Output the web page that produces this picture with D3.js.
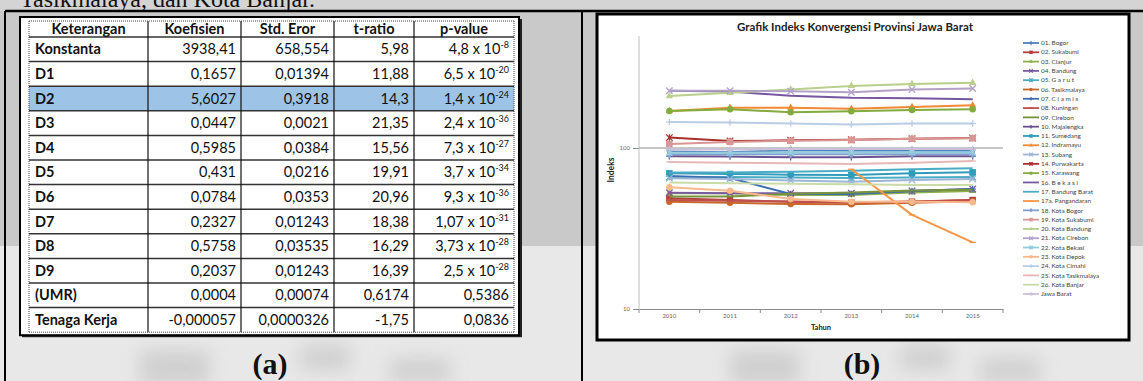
<!DOCTYPE html>
<html><head><meta charset="utf-8">
<script src="https://cdn.jsdelivr.net/npm/d3@7"></script>
<style>
html,body{margin:0;padding:0;background:#e6e6e6;}
svg{display:block;}
</style></head><body>
<svg id="fig" width="1143" height="381"></svg>
<script>
// ---------- (a) regression table ----------
const tableHeaders = ["Keterangan", "Koefisien", "Std. Eror", "t-ratio", "p-value"];
const rowLabels = ["Konstanta", "D1", "D2", "D3", "D4", "D5", "D6", "D7", "D8", "D9", "(UMR)", "Tenaga Kerja"];
const koefisien = ["3938,41", "0,1657", "5,6027", "0,0447", "0,5985", "0,431", "0,0784", "0,2327", "0,5758", "0,2037", "0,0004", "-0,000057"];
const stdEror = ["658,554", "0,01394", "0,3918", "0,0021", "0,0384", "0,0216", "0,0353", "0,01243", "0,03535", "0,01243", "0,00074", "0,0000326"];
const tRatio = ["5,98", "11,88", "14,3", "21,35", "15,56", "19,91", "20,96", "18,38", "16,29", "16,39", "0,6174", "-1,75"];
const pBase = ["4,8 x 10", "6,5 x 10", "1,4 x 10", "2,4 x 10", "7,3 x 10", "3,7 x 10", "9,3 x 10", "1,07 x 10", "3,73 x 10", "2,5 x 10", "0,5386", "0,0836"];
const pExp = ["-8", "-20", "-24", "-36", "-27", "-34", "-36", "-31", "-28", "-28", "", ""];
const highlightRow = "D2";

// ---------- (b) convergence index chart ----------
const chartTitle = "Grafik Indeks Konvergensi Provinsi Jawa Barat";
const years = ["2010", "2011", "2012", "2013", "2014", "2015"];
const yTicks = [10, 100];

const bogor          = [95, 94, 97, 96, 96, 96];
const sukabumi       = [48.7, 47.5, 46.4, 45.7, 46.4, 47.5];
const cianjur        = [52.3, 52.3, 51.1, 51.1, 53, 54.1];
const bandung        = [52.7, 52.3, 52.3, 52.3, 54.1, 55.6];
const garut          = [66, 66, 65.5, 65, 65.5, 66];
const tasikmalaya    = [46.4, 45.7, 44.9, 44.7, 45.7, 46.7];
const ciamis         = [67, 65.1, 51.8, 51.8, 54, 55.6];
const kuningan       = [47.5, 47, 46.5, 46, 46.5, 47.5];
const cirebon        = [50, 50, 52, 53, 54.5, 55];
const majalengka     = [89, 88.5, 87.5, 87.5, 89, 89];
const sumedang       = [69.6, 69, 68.3, 68, 69.6, 70.6];
const indramayu      = [170, 178, 178, 175, 180, 184];
const subang         = [64.8, 64.2, 62.8, 61.8, 63.3, 64.2];
const purwakarta     = [116, 110.5, 111.6, 112.6, 114.2, 115.4];
const karawang       = [170, 174, 167, 169, 172, 174];
const bekasi         = [227, 224, 211, 205, 204, 201];
const bandungBarat   = [70.4, 70.4, 71.2, 72.3, 73.8, 74.8];
const pangandaran    = [null, null, null, 73.8, 38.4, 25.9];
const kotaBogor      = [91.5, 91.5, 91.5, 91.5, 91.5, 91.5];
const kotaSukabumi   = [106, 109, 111, 112, 114, 115];
const kotaBandung    = [210, 220, 231, 243, 250, 254];
const kotaCirebon    = [227, 227, 225, 222, 231, 234];
const kotaBekasi     = [93.5, 93.5, 94, 94, 94, 94];
const kotaDepok      = [57, 54.3, 48.2, 46.4, 46.4, 46];
const kotaCimahi     = [145, 144, 142, 140, 142, 142];
const kotaTasikmalaya = [82, 81, 80.5, 79.5, 81, 83];
const kotaBanjar     = [61, 60.5, 60, 59.5, 59, 59];
const jawaBarat      = [98, 98, 98.5, 98.5, 98.5, 98.5];

const seriesNames = ["01. Bogor", "02. Sukabumi", "03. Cianjur", "04. Bandung", "05. G a r u t", "06. Tasikmalaya",
  "07. C i a m i s", "08. Kuningan", "09. Cirebon", "10. Majalengka", "11. Sumedang", "12. Indramayu", "13. Subang",
  "14. Purwakarta", "15. Karawang", "16. B e k a s i", "17. Bandung Barat", "17a. Pangandaran", "18. Kota Bogor",
  "19. Kota Sukabumi", "20. Kota Bandung", "21. Kota Cirebon", "22. Kota Bekasi", "23. Kota Depok", "24. Kota Cimahi",
  "25. Kota Tasikmalaya", "26. Kota Banjar", "Jawa Barat"];
const seriesValues = [bogor, sukabumi, cianjur, bandung, garut, tasikmalaya, ciamis, kuningan, cirebon, majalengka,
  sumedang, indramayu, subang, purwakarta, karawang, bekasi, bandungBarat, pangandaran, kotaBogor, kotaSukabumi,
  kotaBandung, kotaCirebon, kotaBekasi, kotaDepok, kotaCimahi, kotaTasikmalaya, kotaBanjar, jawaBarat];
const seriesColors = ["#4F81BD", "#B2403D", "#8DB04A", "#7A5BA0", "#4BACC6", "#C8682C",
  "#3E6DAF", "#C0504D", "#77933C", "#6A5190", "#2F9DBA", "#F28A35", "#9DB6D6",
  "#A5302C", "#83AC3E", "#7657A0", "#4BACC6", "#F79646", "#7F9FCF",
  "#D99694", "#B8D08A", "#B3A2C7", "#93CDDD", "#F9B98A", "#B9CDE5",
  "#E6B9B8", "#C9DCA8", "#CCC1DA"];
const seriesMarkers = ["diamond", "square", "triangle", "x", "star", "circle",
  "plus", "dash", "none", "plus", "square", "triangle", "x",
  "star", "circle", "none", "none", "dash", "diamond",
  "square", "triangle", "x", "star", "circle", "plus",
  "dash", "none", "plus"];

// ---------- page ----------
const W = 1143, H = 381;
const svg = d3.select("#fig");
const defs = svg.append("defs");
defs.append("filter").attr("id", "soft").attr("x", "-50%").attr("y", "-50%").attr("width", "200%").attr("height", "200%")
  .append("feGaussianBlur").attr("stdDeviation", 9);

svg.append("rect").attr("width", W).attr("height", H).attr("fill", "#e8e8e8");
svg.append("rect").attr("width", W).attr("height", 246).attr("fill", "#c9c9c9");
svg.append("rect").attr("width", W).attr("height", 11).attr("fill", "#d4d4d4");

// faint logo shapes behind the captions
const wm = svg.append("g").attr("filter", "url(#soft)").attr("fill", "#bdbdbd").attr("opacity", 0.55);
[[140, 350, 70, 35], [300, 345, 50, 25], [390, 358, 60, 25], [730, 350, 70, 35], [900, 345, 50, 25], [980, 358, 60, 25]]
  .forEach(r => wm.append("rect").attr("x", r[0]).attr("y", r[1]).attr("width", r[2]).attr("height", r[3]));

// running text cut at the top of the page
svg.append("text").attr("x", 20).attr("y", 7)
  .attr("font-family", "Liberation Serif, Times New Roman, serif").attr("font-size", 24)
  .attr("fill", "#111").text("Tasikmalaya, dan Kota Banjar.");

// frame lines
svg.append("line").attr("x1", 5).attr("x2", W).attr("y1", 11).attr("y2", 11).attr("stroke", "#000").attr("stroke-width", 2.5);
svg.append("line").attr("x1", 5).attr("x2", 5).attr("y1", 11).attr("y2", H).attr("stroke", "#000").attr("stroke-width", 2);
svg.append("line").attr("x1", 582).attr("x2", 582).attr("y1", 11).attr("y2", H).attr("stroke", "#000").attr("stroke-width", 2);

// captions
[["(a)", 270], ["(b)", 862]].forEach(([t, x]) =>
  svg.append("text").attr("x", x).attr("y", 374).attr("text-anchor", "middle")
    .attr("font-family", "Liberation Serif, Times New Roman, serif").attr("font-weight", "bold")
    .attr("font-size", 30).attr("fill", "#111").text(t));

// ---------- table ----------
const colEdges = [29, 148, 241, 334, 414, 514];
const headerTop = 21, headerBottom = 37;
const rowY = d3.scaleBand().domain(rowLabels).range([headerBottom, headerBottom + 24.6 * rowLabels.length]);
const tBottom = rowY.range()[1];
const tbl = svg.append("g").attr("font-family", "Lato, Open Sans, sans-serif").attr("fill", "#111");

// box with drop shadow
tbl.append("rect").attr("x", 22).attr("y", 19).attr("width", colEdges[5] - 22 + 8).attr("height", tBottom - 19 + 5)
  .attr("fill", "#222");
tbl.append("rect").attr("x", 20).attr("y", 17).attr("width", colEdges[5] - 20 + 5).attr("height", tBottom - 17 + 3)
  .attr("fill", "#fff").attr("stroke", "#000").attr("stroke-width", 2);
tbl.append("rect").attr("x", colEdges[0]).attr("y", rowY(highlightRow)).attr("width", colEdges[5] - colEdges[0])
  .attr("height", rowY.bandwidth()).attr("fill", "#9dc3e6");

// grid lines
rowLabels.forEach(r => {
  tbl.append("line").attr("x1", colEdges[0]).attr("x2", colEdges[5]).attr("y1", rowY(r)).attr("y2", rowY(r))
    .attr("stroke", "#333").attr("stroke-width", 1.5);
});
colEdges.slice(1, 5).forEach(x => tbl.append("line").attr("x1", x).attr("x2", x).attr("y1", headerTop).attr("y2", tBottom)
  .attr("stroke", "#111").attr("stroke-width", 1.2));
[[colEdges[0], headerTop, colEdges[5], headerTop], [colEdges[0], tBottom, colEdges[5], tBottom],
 [colEdges[0], headerTop, colEdges[0], tBottom], [colEdges[5], headerTop, colEdges[5], tBottom]]
  .forEach(l => tbl.append("line").attr("x1", l[0]).attr("y1", l[1]).attr("x2", l[2]).attr("y2", l[3])
    .attr("stroke", "#444").attr("stroke-width", 1).attr("stroke-dasharray", "1,1"));

// header
tableHeaders.forEach((h, i) => tbl.append("text").attr("x", (colEdges[i] + colEdges[i + 1]) / 2)
  .attr("y", (headerTop + headerBottom) / 2 + 5).attr("text-anchor", "middle").attr("font-weight", "bold")
  .attr("font-size", 14.5).text(h));

// body
rowLabels.forEach((r, i) => {
  const yb = rowY(r) + rowY.bandwidth() / 2 + 5;
  tbl.append("text").attr("x", colEdges[0] + 6).attr("y", yb).attr("font-weight", "bold").attr("font-size", 14.5).text(r);
  [koefisien[i], stdEror[i], tRatio[i]].forEach((v, j) =>
    tbl.append("text").attr("x", colEdges[j + 2] - 5).attr("y", yb).attr("text-anchor", "end").attr("font-size", 14.5).text(v));
  const t = tbl.append("text").attr("x", colEdges[5] - 5).attr("y", yb).attr("text-anchor", "end").attr("font-size", 14.5);
  t.append("tspan").text(pBase[i]);
  if (pExp[i]) t.append("tspan").attr("dy", -6).attr("font-size", 9).text(pExp[i]);
});

// ---------- chart ----------
const box = {x: 597, y: 14, w: 532, h: 326};
const ch = svg.append("g").attr("font-family", "Lato, Open Sans, sans-serif");
ch.append("rect").attr("x", box.x).attr("y", box.y).attr("width", box.w).attr("height", box.h)
  .attr("fill", "#fff").attr("stroke", "#000").attr("stroke-width", 3);

ch.append("text").attr("x", 855).attr("y", 31).attr("text-anchor", "middle").attr("font-weight", "bold")
  .attr("font-size", 11.5).attr("fill", "#222").text(chartTitle);

const plot = {left: 639, right: 1003, top: 36, bottom: 309};
const x = d3.scaleBand().domain(years).range([plot.left, plot.right]);
const y = d3.scaleLog().domain([10, 100]).range([plot.bottom, 148]);

// gridline at 100
ch.append("line").attr("x1", plot.left).attr("x2", plot.right).attr("y1", y(100)).attr("y2", y(100))
  .attr("stroke", "#8c8c8c").attr("stroke-width", 1);

// y axis
const yAxis = ch.append("g").attr("transform", `translate(${plot.left},0)`)
  .call(d3.axisLeft(y).tickValues(yTicks).tickFormat(d3.format("d")).tickSize(6).tickSizeOuter(0));
yAxis.select(".domain").remove();
ch.append("line").attr("x1", plot.left).attr("x2", plot.left).attr("y1", plot.top).attr("y2", plot.bottom)
  .attr("stroke", "#bfbfbf");
yAxis.selectAll(".tick line").attr("stroke", "#8c8c8c");
yAxis.selectAll(".tick text").attr("font-size", 6).attr("fill", "#666").attr("font-family", "Lato, sans-serif");

// x axis
const xAxis = ch.append("g").attr("transform", `translate(0,${plot.bottom})`)
  .call(d3.axisBottom(x).tickSize(0).tickPadding(5));
xAxis.select(".domain").attr("stroke", "#8c8c8c");
xAxis.selectAll(".tick text").attr("font-size", 6).attr("fill", "#666").attr("font-family", "Lato, sans-serif");
d3.range(years.length + 1).forEach(i => {
  const xx = plot.left + i * x.step();
  ch.append("line").attr("x1", xx).attr("x2", xx).attr("y1", plot.bottom).attr("y2", plot.bottom + 4).attr("stroke", "#8c8c8c");
});

ch.append("text").attr("x", (plot.left + plot.right) / 2).attr("y", 330).attr("text-anchor", "middle")
  .attr("font-weight", "bold").attr("font-size", 7.5).attr("fill", "#222").text("Tahun");
ch.append("text").attr("transform", `translate(614,170) rotate(-90)`).attr("text-anchor", "middle")
  .attr("font-weight", "bold").attr("font-size", 8.5).attr("fill", "#222").text("Indeks");

// marker painter
function marker(g, type, color, s) {
  const h = s / 2;
  if (type === "none") return;
  if (type === "diamond") g.append("path").attr("d", d3.symbol(d3.symbolDiamond, s * s * 0.6)()).attr("fill", color);
  else if (type === "square") g.append("rect").attr("x", -h).attr("y", -h).attr("width", s).attr("height", s).attr("fill", color);
  else if (type === "triangle") g.append("path").attr("d", d3.symbol(d3.symbolTriangle, s * s * 0.55)()).attr("fill", color);
  else if (type === "circle") g.append("circle").attr("r", h).attr("fill", color);
  else {
    const segs = [];
    if (type === "x" || type === "star") segs.push([-h, -h, h, h], [-h, h, h, -h]);
    if (type === "plus" || type === "star") segs.push([0, -h, 0, h]);
    if (type === "plus" || type === "dash") segs.push([-h, 0, h, 0]);
    segs.forEach(sg => g.append("line").attr("x1", sg[0]).attr("y1", sg[1]).attr("x2", sg[2]).attr("y2", sg[3])
      .attr("stroke", color).attr("stroke-width", 1.3));
  }
}

const lineFor = vals => d3.line().defined(d => d.v != null).x(d => x(d.yr) + x.bandwidth() / 2).y(d => y(d.v))
  (vals.map((v, i) => ({yr: years[i], v})));

seriesValues.forEach((vals, si) => {
  const col = seriesColors[si];
  ch.append("path").attr("d", lineFor(vals)).attr("fill", "none").attr("stroke", col)
    .attr("stroke-width", 2).attr("stroke-linejoin", "round");
  vals.forEach((v, i) => {
    if (v == null) return;
    const g = ch.append("g").attr("transform", `translate(${x(years[i]) + x.bandwidth() / 2},${y(v)})`);
    marker(g, seriesMarkers[si], col, 6.5);
  });
});

// legend
const leg = ch.append("g").attr("font-family", "Lato, Open Sans, sans-serif");
const legY = d3.scalePoint().domain(seriesNames).range([43, 294]);
seriesNames.forEach((n, si) => {
  const yy = legY(n);
  leg.append("line").attr("x1", 1023).attr("x2", 1039).attr("y1", yy).attr("y2", yy)
    .attr("stroke", seriesColors[si]).attr("stroke-width", 1.8);
  const g = leg.append("g").attr("transform", `translate(1031,${yy})`);
  marker(g, seriesMarkers[si], seriesColors[si], 3.5);
  leg.append("text").attr("x", 1041).attr("y", yy + 2.2).attr("font-size", 6.4).attr("fill", "#444").text(n);
});
</script>
</body></html>
